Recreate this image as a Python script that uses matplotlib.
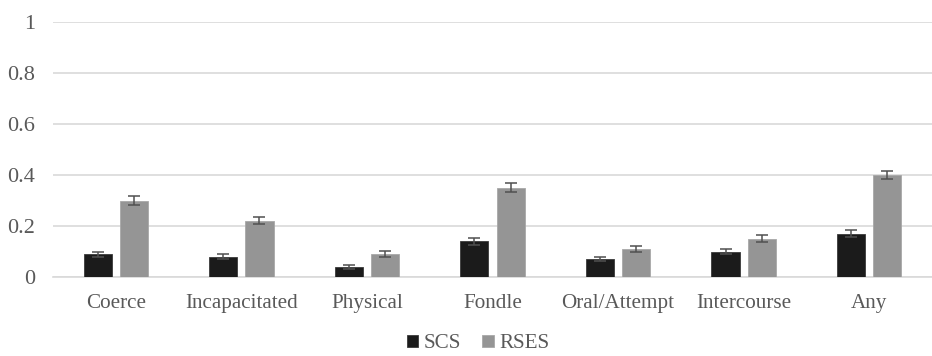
import numpy as np
import matplotlib.pyplot as plt

categories = ['Coerce', 'Incapacitated', 'Physical', 'Fondle', 'Oral/Attempt', 'Intercourse', 'Any']
scs = [0.09, 0.08, 0.04, 0.14, 0.07, 0.10, 0.17]
rses = [0.30, 0.22, 0.09, 0.35, 0.11, 0.15, 0.40]
scs_err = [0.010, 0.010, 0.008, 0.013, 0.009, 0.011, 0.013]
rses_err = [0.016, 0.014, 0.011, 0.017, 0.012, 0.013, 0.017]
yticks = [0, 0.2, 0.4, 0.6, 0.8, 1]
ytick_labels = ['0', '0.2', '0.4', '0.6', '0.8', '1']

plt.rcParams['font.family'] = ['Liberation Serif', 'DejaVu Serif']
text_color = '#595959'

fig = plt.figure(figsize=(9.32, 3.56), dpi=100)
ax = fig.add_axes([53 / 932, 1 - 277 / 356, 879 / 932, 255 / 356])

x = np.arange(len(categories))
w = 0.224
off = 0.144
err_kw = dict(ecolor='#505050', elinewidth=1.1, capsize=4, capthick=1.1)
ax.bar(x - off, scs, w, color='#1b1b1b', edgecolor='#3a3a3a', linewidth=0.6,
       yerr=scs_err, error_kw=err_kw, label='SCS', zorder=3)
ax.bar(x + off, rses, w, color='#959595', edgecolor='#a8a8a8', linewidth=0.6,
       yerr=rses_err, error_kw=err_kw, label='RSES', zorder=3)

ax.set_xlim(-0.5, len(categories) - 0.5)
ax.set_ylim(0, 1)
ax.set_yticks(yticks)
ax.set_yticklabels(ytick_labels)
ax.set_xticks(x)
ax.set_xticklabels(categories)
ax.yaxis.grid(True, color='#d9d9d9', linewidth=1.2, zorder=0)
ax.tick_params(axis='both', length=0, colors=text_color)
ax.tick_params(axis='y', pad=13, labelsize=16)
ax.tick_params(axis='x', pad=12, labelsize=15.2)
for s in ['top', 'right', 'left']:
    ax.spines[s].set_visible(False)
ax.spines['bottom'].set_color('#d9d9d9')
ax.spines['bottom'].set_linewidth(1.2)

leg = fig.legend(loc='center', bbox_to_anchor=(478 / 932, 1 - 344 / 356), ncol=2, frameon=False,
                 prop={'family': ['Liberation Serif'], 'size': 15.2},
                 handlelength=0.55, handleheight=0.55, handletextpad=0.25,
                 columnspacing=1.0)
for t in leg.get_texts():
    t.set_color(text_color)

fig.savefig('out.png', dpi=100)
